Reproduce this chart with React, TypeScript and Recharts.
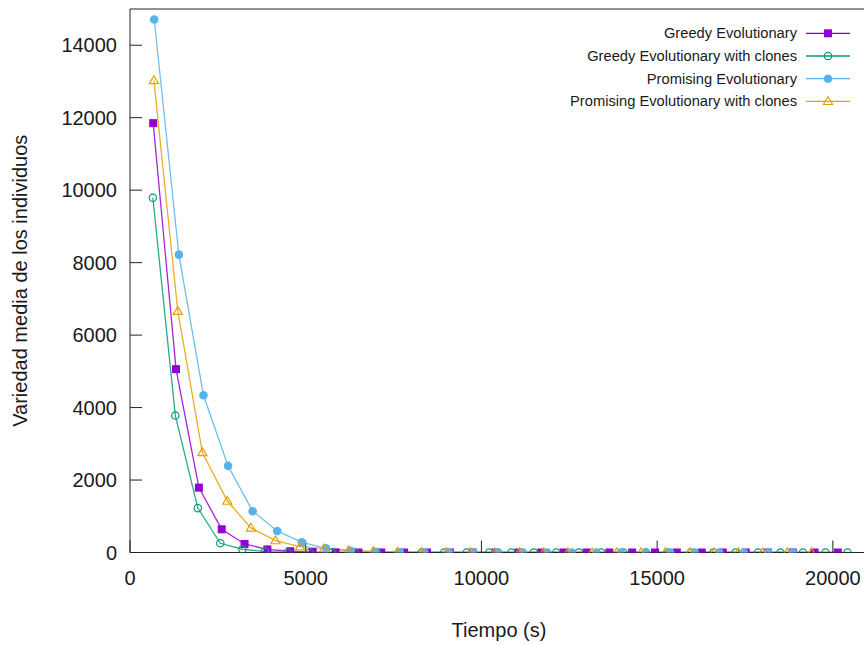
import React from 'react';
import { LineChart, Line, XAxis, YAxis, Legend } from 'recharts';

// ---- Data ----
const greedyTime = [660, 1310, 1960, 2610, 3260, 3910, 4560, 5200, 5850, 6500, 7150, 7800, 8450, 9100, 9750, 10400, 11050, 11700, 12340, 12990, 13640, 14290, 14940, 15560, 16270, 16870, 17520, 18150, 18860, 19480, 20140];
const greedyVar = [11850, 5060, 1790, 640, 235, 85, 35, 12, 4, 0, 0, 0, 0, 0, 0, 0, 0, 0, 0, 0, 0, 0, 0, 0, 0, 0, 0, 0, 0, 0, 0];

const greedyClonesTime = [650, 1290, 1930, 2570, 3200, 3840, 4480, 5110, 5750, 6390, 7030, 7660, 8300, 8940, 9580, 10220, 10850, 11490, 12130, 12770, 13410, 14040, 14680, 15320, 15960, 16600, 17230, 17870, 18510, 19150, 19790, 20420];
const greedyClonesVar = [9790, 3780, 1225, 255, 90, 25, 8, 0, 0, 0, 0, 0, 0, 0, 0, 0, 0, 0, 0, 0, 0, 0, 0, 0, 0, 0, 0, 0, 0, 0, 0, 0];

const promisingTime = [690, 1390, 2090, 2790, 3490, 4190, 4890, 5580, 6280, 6980, 7680, 8380, 9080, 9780, 10480, 11180, 11870, 12570, 13270, 13970, 14670, 15370, 16070, 16770, 17470, 18160, 18860];
const promisingVar = [14710, 8220, 4340, 2390, 1140, 595, 280, 115, 50, 20, 5, 0, 0, 0, 0, 0, 0, 0, 0, 0, 0, 0, 0, 0, 0, 0, 0];

const promisingClonesTime = [680, 1360, 2060, 2770, 3440, 4140, 4840, 5520, 6220, 6920, 7610, 8300, 9000, 9690, 10380, 11080, 11770, 12460, 13150, 13850, 14540, 15230, 15930, 16620, 17310, 18000, 18700, 19390];
const promisingClonesVar = [13030, 6660, 2760, 1420, 680, 330, 160, 105, 55, 30, 15, 5, 0, 0, 0, 0, 0, 0, 0, 0, 0, 0, 0, 0, 0, 0, 0, 0];

const seriesNames = [
  'Greedy Evolutionary',
  'Greedy Evolutionary with clones',
  'Promising Evolutionary',
  'Promising Evolutionary with clones',
];

const xTicks = [0, 5000, 10000, 15000, 20000];
const yTicks = [0, 2000, 4000, 6000, 8000, 10000, 12000, 14000];

const xLabel = 'Tiempo (s)';
const yLabel = 'Variedad media de los individuos';

// ---- Build series ----
const zip = (t: number[], v: number[]) => t.map((x, i) => ({ t: x, v: v[i] }));

const series = [
  { name: seriesNames[0], color: '#9400d3', shape: 'square', data: zip(greedyTime, greedyVar) },
  { name: seriesNames[1], color: '#009e73', shape: 'circleOpen', data: zip(greedyClonesTime, greedyClonesVar) },
  { name: seriesNames[2], color: '#56b4e9', shape: 'circle', data: zip(promisingTime, promisingVar) },
  { name: seriesNames[3], color: '#e69f00', shape: 'triangle', data: zip(promisingClonesTime, promisingClonesVar) },
];

const FONT = '"Liberation Sans", Arial, Helvetica, sans-serif';

function Marker({ shape, color, cx, cy }: { shape: string; color: string; cx: number; cy: number }) {
  if (cx == null || cy == null || isNaN(cx) || isNaN(cy)) return null;
  switch (shape) {
    case 'square':
      return <rect x={cx - 4} y={cy - 4} width={8} height={8} fill={color} />;
    case 'circleOpen':
      return <circle cx={cx} cy={cy} r={3.7} fill="none" stroke={color} strokeWidth={1.2} />;
    case 'circle':
      return <circle cx={cx} cy={cy} r={4.3} fill={color} />;
    case 'triangle':
      return (
        <path
          d={`M${cx},${cy - 4.6} L${cx + 4.6},${cy + 3.2} L${cx - 4.6},${cy + 3.2} Z`}
          fill="none"
          stroke={color}
          strokeWidth={1.2}
          strokeLinejoin="miter"
        />
      );
    default:
      return null;
  }
}

const legendRowsY = [33.3, 56, 78.7, 101.3];

function LegendContent() {
  return (
    <svg width={864} height={120} style={{ display: 'block' }}>
      {series.map((s, i) => (
        <g key={s.name}>
          <text
            x={797}
            y={legendRowsY[i]}
            textAnchor="end"
            dominantBaseline="central"
            fontFamily={FONT}
            fontSize={14.7}
            fill="#1a1a1a"
          >
            {s.name}
          </text>
          <line x1={806} x2={850} y1={legendRowsY[i]} y2={legendRowsY[i]} stroke={s.color} strokeWidth={1.3} />
          <Marker shape={s.shape} color={s.color} cx={828} cy={legendRowsY[i]} />
        </g>
      ))}
    </svg>
  );
}

function YAxisTitle(props: any) {
  const vb = props.viewBox || {};
  const cy = (vb.y ?? 0) + (vb.height ?? 0) / 2;
  const x = 27;
  return (
    <text
      x={x}
      y={cy}
      transform={`rotate(-90, ${x}, ${cy})`}
      textAnchor="middle"
      fontFamily={FONT}
      fontSize={20}
      fill="#1a1a1a"
    >
      {yLabel}
    </text>
  );
}

function XAxisTitle(props: any) {
  const vb = props.viewBox || {};
  const cx = (vb.x ?? 0) + (vb.width ?? 0) / 2;
  return (
    <text x={cx} y={637} textAnchor="middle" fontFamily={FONT} fontSize={20} fill="#1a1a1a">
      {xLabel}
    </text>
  );
}

const tickStyle = { fill: '#1a1a1a', fontSize: 20, fontFamily: FONT };
const lineStyle = { stroke: '#222', strokeWidth: 1 };

export default function App() {
  return (
    <div
      style={{
        position: 'absolute',
        left: 0,
        top: 0,
        width: 864,
        height: 645,
        overflow: 'hidden',
        background: '#fff',
      }}
    >
      <LineChart width={880} height={645} margin={{ top: 8, right: 11, bottom: 0, left: 0 }}>
        <XAxis
          xAxisId={0}
          dataKey="t"
          type="number"
          domain={[0, 21000]}
          ticks={xTicks}
          allowDataOverflow
          height={92.5}
          tickSize={-12}
          tickMargin={30.5}
          tick={tickStyle}
          axisLine={lineStyle}
          tickLine={lineStyle}
          interval={0}
          label={<XAxisTitle />}
        />
        <XAxis
          xAxisId="top"
          orientation="top"
          type="number"
          domain={[0, 21000]}
          ticks={xTicks}
          allowDataOverflow
          height={1}
          tickSize={-12}
          tick={false}
          axisLine={lineStyle}
          tickLine={lineStyle}
          interval={0}
        />
        <YAxis
          yAxisId={0}
          type="number"
          domain={[0, 15000]}
          ticks={yTicks}
          allowDataOverflow
          width={130}
          tickSize={-12}
          tickMargin={25}
          tick={tickStyle}
          axisLine={lineStyle}
          tickLine={lineStyle}
          interval={0}
          label={<YAxisTitle />}
        />
        <YAxis
          yAxisId="right"
          orientation="right"
          type="number"
          domain={[0, 15000]}
          ticks={yTicks}
          allowDataOverflow
          width={1}
          tickSize={-12}
          tick={false}
          axisLine={lineStyle}
          tickLine={lineStyle}
          interval={0}
        />
        <Legend
          layout="vertical"
          align="center"
          verticalAlign="middle"
          wrapperStyle={{ position: 'absolute', left: 0, top: 0, width: 864, height: 120 }}
          content={() => <LegendContent />}
        />
        {series.map((s) => (
          <Line
            key={s.name}
            name={s.name}
            data={s.data}
            dataKey="v"
            xAxisId={0}
            yAxisId={0}
            type="linear"
            stroke={s.color}
            strokeWidth={1.3}
            strokeOpacity={0.85}
            isAnimationActive={false}
            dot={(p: any) => <Marker key={`${s.name}-${p.index}`} shape={s.shape} color={s.color} cx={p.cx} cy={p.cy} />}
            activeDot={false}
          />
        ))}
      </LineChart>
    </div>
  );
}
